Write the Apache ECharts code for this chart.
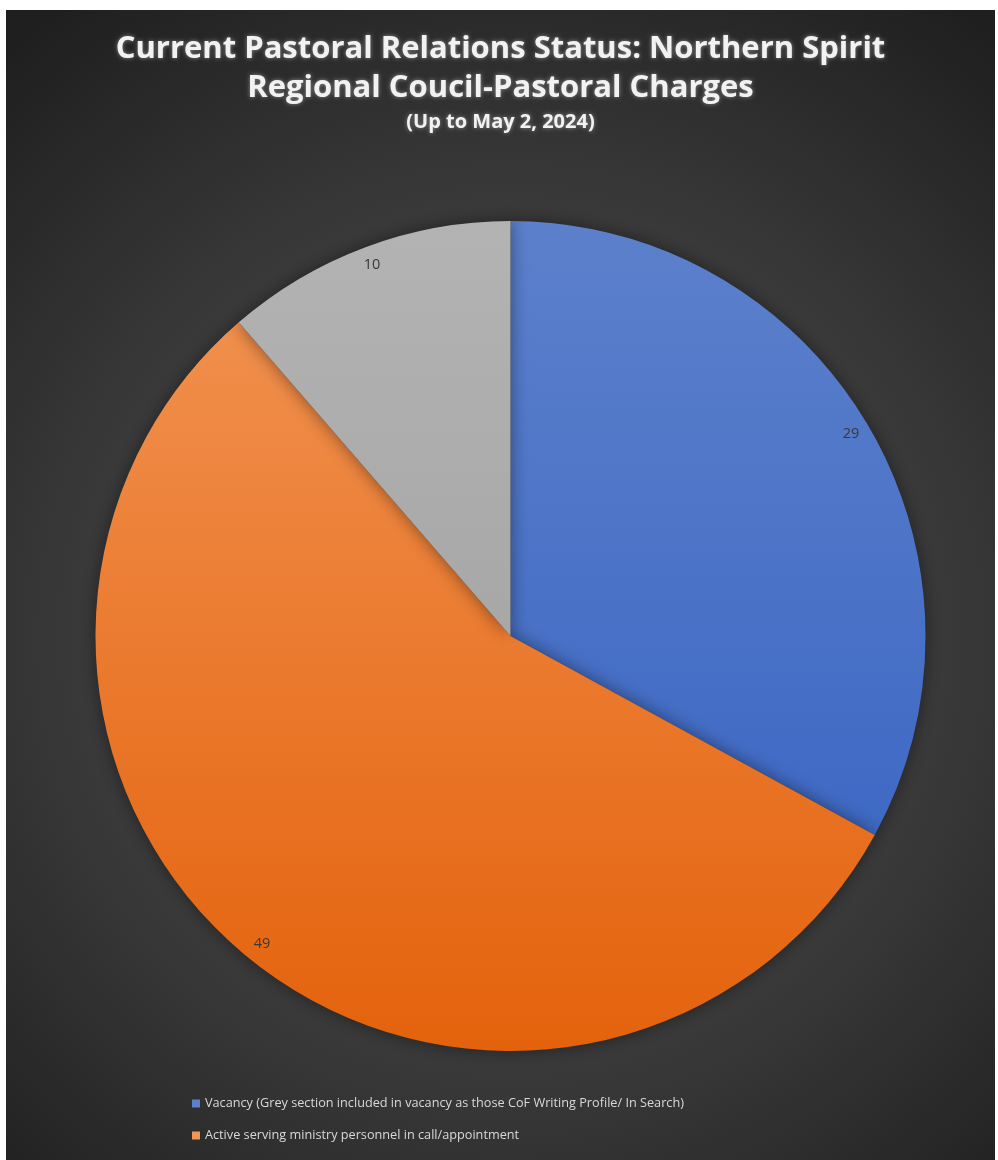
<!DOCTYPE html>
<html>
<head>
<meta charset="utf-8">
<script src="https://cdn.jsdelivr.net/npm/echarts@6/dist/echarts.min.js"></script>
<style>
html,body{margin:0;padding:0;background:#ffffff;width:998px;height:1160px;overflow:hidden;}
#chart{position:absolute;left:6px;top:10px;width:989px;height:1150px;}
</style>
</head>
<body>
<div id="chart"></div>
<script>
// ---- data ----
const categories = [
  'Vacancy (Grey section included in vacancy as those CoF Writing Profile/ In Search)',
  'Active serving ministry personnel in call/appointment',
  'CoF Writing Profile/ In Search'
];
const values = [29, 49, 10];
const legendItems = [categories[0], categories[1]];
const titleLines = ['Current Pastoral Relations Status: Northern Spirit', 'Regional Coucil-Pastoral Charges'];
const subtitle = '(Up to May 2, 2024)';

// ---- styles ----
const CX = 504.5, CY = 626, R = 415;
function grad(top, bottom) {
  return {type:'linear', x:0, y:CY - R, x2:0, y2:CY + R, global:true,
    colorStops:[{offset:0, color:top},{offset:1, color:bottom}]};
}
const sliceColors = [
  grad('#5c80cb', '#3461c2'),
  grad('#f29555', '#e4620c'),
  grad('#b3b3b3', '#9c9c9c')
];

const chart = echarts.init(document.getElementById('chart'));
const fontFam = "'Open Sans',sans-serif";
chart.setOption({
  backgroundColor: {
    type:'radial', x:0.51, y:0.545, r:0.78,
    colorStops:[
      {offset:0, color:'#474747'},
      {offset:0.55, color:'#3a3a3a'},
      {offset:0.8, color:'#2b2b2b'},
      {offset:1, color:'#1f1f1f'}
    ]
  },
  title: {
    text: titleLines.join('\n'),
    subtext: subtitle,
    left: 'center',
    top: 15,
    itemGap: 2,
    textStyle: {
      color:'#f2f2f2', fontSize:31, fontWeight:'bold', lineHeight:39,
      fontFamily:"'Open Sans',sans-serif",
      textShadowColor:'rgba(255,255,255,0.45)', textShadowBlur:4
    },
    subtextStyle: {
      color:'#f2f2f2', fontSize:20, fontWeight:'bold', lineHeight:24,
      fontFamily:"'Open Sans',sans-serif",
      textShadowColor:'rgba(255,255,255,0.45)', textShadowBlur:4
    }
  },
  legend: {
    data: legendItems,
    orient: 'vertical',
    left: 181,
    top: 1082,
    itemWidth: 8,
    itemHeight: 8,
    itemGap: 19,
    icon: 'rect',
    textStyle: {color:'#d9d9d9', fontSize:12.7, fontFamily:fontFam},
    selectedMode: false
  },
  series: [
    {
      type:'pie',
      center:[CX, CY],
      radius:[0, R],
      startAngle:90,
      clockwise:true,
      silent:true,
      label:{show:false},
      labelLine:{show:false},
      itemStyle:{
        borderWidth:0,
        shadowBlur:18, shadowColor:'rgba(0,0,0,0.45)'
      },
      data: categories.map((n, i) => ({name:n, value:values[i], itemStyle:{color:sliceColors[i]}}))
    },
    {
      type:'pie',
      center:[CX, CY],
      radius:[371, R],
      startAngle:90,
      clockwise:true,
      silent:true,
      legendHoverLink:false,
      itemStyle:{color:'rgba(0,0,0,0)', borderWidth:0},
      label:{show:true, position:'inside', formatter:'{c}', color:'#383838', fontSize:14.5,
        fontFamily:fontFam},
      labelLine:{show:false},
      data: categories.map((n, i) => ({name:n, value:values[i]}))
    }
  ]
});
</script>
</body>
</html>
